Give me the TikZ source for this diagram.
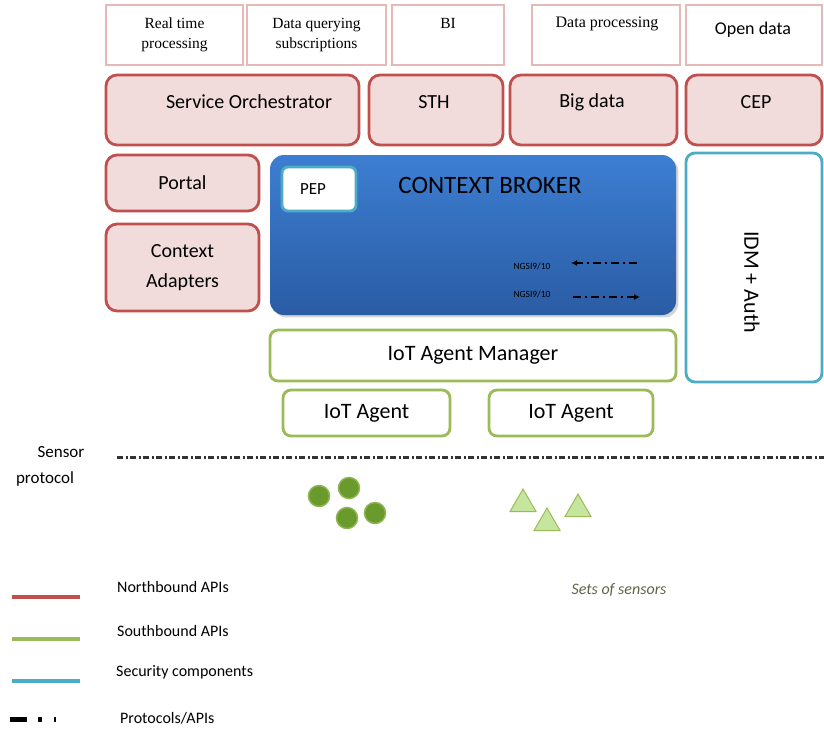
\documentclass[tikz,border=0pt]{standalone}
\usepackage{fontspec}
\setmainfont{Carlito}
\newfontfamily\timesfont{Liberation Serif}
\usetikzlibrary{shapes.geometric,arrows.meta,shadows}
\definecolor{nbred}{HTML}{C0504D}
\definecolor{nbfill}{HTML}{F2DCDB}
\definecolor{toppink}{HTML}{E6B9B8}
\definecolor{sbgreen}{HTML}{9BBB59}
\definecolor{secblue}{HTML}{4BACC6}
\definecolor{cbtop}{HTML}{3D7ED2}
\definecolor{cbbot}{HTML}{2A5CA4}
\definecolor{dotgreen}{HTML}{6A9A2C}
\definecolor{dotedge}{HTML}{8DB451}
\definecolor{trigreen}{HTML}{C6E59E}
\definecolor{setgray}{HTML}{5F6446}
\begin{document}
\begin{tikzpicture}[x=1pt,y=-1pt,
  appbox/.style={draw=toppink, line width=2.5pt, fill=white, inner sep=0pt, align=center, font=\timesfont\fontsize{15.5}{20}\selectfont},
  nbbox/.style={draw=nbred, line width=2.8pt, fill=nbfill, rounded corners=11pt, inner sep=0pt, align=center, font=\fontsize{20}{30}\selectfont},
  sbbox/.style={draw=sbgreen, line width=2.8pt, fill=white, rounded corners=8pt, inner sep=0pt, font=\fontsize{22}{24}\selectfont},
  secbox/.style={draw=secblue, line width=2.8pt, rounded corners=9pt, inner sep=0pt},
  lbl/.style={inner sep=0pt, font=\fontsize{20}{24}\selectfont},
  sensdot/.style={circle, fill=dotgreen, draw=dotedge, line width=1.5pt, minimum size=21pt, inner sep=0pt},
  senstri/.style={regular polygon, regular polygon sides=3, fill=trigreen, draw=sbgreen, line width=1pt, minimum size=30pt, inner sep=0pt},
  proto/.style={line width=3pt, draw=black!80, dash pattern=on 6pt off 2.5pt on 2pt off 2.5pt},
  ngsi/.style={line width=1.6pt, dash pattern=on 8pt off 4pt on 2pt off 4pt, -{Latex[length=6pt,width=6pt]}},
  legline/.style={line width=4pt},
  legtxt/.style={anchor=west, inner sep=0pt, font=\fontsize{16}{18}\selectfont}]
\useasboundingbox (0,0) rectangle (824,729);
\node[appbox, minimum width=137pt, minimum height=60pt] (rtp) at (174.5,35) {Real time\\processing};
\node[appbox, minimum width=139pt, minimum height=60pt] (dqs) at (316.5,35) {Data querying\\subscriptions};
\node[appbox, minimum width=112pt, minimum height=60pt] (bi) at (448,35) {};
\node[appbox, minimum width=148pt, minimum height=60pt] (dproc) at (606,35) {};
\node[appbox, minimum width=136pt, minimum height=60pt] (odata) at (754,35) {};
\node[lbl, font=\timesfont\fontsize{15.5}{20}\selectfont] (bitxt) at (448,23) {BI};
\node[lbl, font=\timesfont\fontsize{16}{20}\selectfont] (dproctxt) at (607,24) {Data processing};
\node[lbl, font=\fontsize{18}{20}\selectfont] (odatatxt) at (753,30) {Open data};
\node[nbbox, minimum width=253pt, minimum height=70pt] (orch) at (232.5,110) {};
\node[nbbox, minimum width=134pt, minimum height=70pt] (sth) at (436,110) {};
\node[nbbox, minimum width=167pt, minimum height=70pt] (bigdata) at (593.5,110) {};
\node[nbbox, minimum width=136pt, minimum height=70pt] (cep) at (754,110) {};
\node[lbl] (orchtxt) at (249,102) {Service Orchestrator};
\node[lbl] (sthtxt) at (434,102) {STH};
\node[lbl] (bigdatatxt) at (592,102) {Big data};
\node[lbl] (ceptxt) at (756,102) {CEP};
\node[nbbox, minimum width=153pt, minimum height=56pt] (portal) at (182.5,183) {Portal};
\node[nbbox, minimum width=153pt, minimum height=87pt] (adapt) at (182.5,267.5) {Context\\Adapters};
\node[rounded corners=14pt, top color=cbtop, bottom color=cbbot, drop shadow={opacity=0.35}, minimum width=406pt, minimum height=160pt, inner sep=0pt] (cb) at (473,235) {};
\node[lbl, font=\fontsize{25}{28}\selectfont] (cbtxt) at (490,185) {CONTEXT BROKER};
\node[secbox, fill=white, rounded corners=6pt, minimum width=74pt, minimum height=44pt, font=\fontsize{17}{20}\selectfont] (pep) at (319,189) {\hspace*{-12pt}PEP};
\node[lbl, font=\fontsize{9.5}{10}\selectfont] (ngsiin) at (532,266) {NGSI9/10};
\node[lbl, font=\fontsize{9.5}{10}\selectfont] (ngsiout) at (532,294) {NGSI9/10};
\coordinate (ngsiina) at (637,263);
\coordinate (ngsiinb) at (571,263);
\coordinate (ngsiouta) at (573,297);
\coordinate (ngsioutb) at (640,297);
\draw[ngsi] (ngsiina) -- (ngsiinb);
\draw[ngsi] (ngsiouta) -- (ngsioutb);
\node[secbox, fill=white, minimum width=136pt, minimum height=229pt] (idm) at (754,267.5) {};
\node[lbl, rotate=-90, font=\fontsize{22}{24}\selectfont] (idmtxt) at (752,282) {IDM + Auth};
\node[sbbox, minimum width=406pt, minimum height=51pt] (iotmgr) at (473,355.5) {IoT Agent Manager};
\node[sbbox, minimum width=167pt, minimum height=46pt] (agenta) at (366.5,413) {IoT Agent};
\node[sbbox, minimum width=164pt, minimum height=46pt] (agentb) at (571,413) {IoT Agent};
\node[lbl, font=\fontsize{17}{20}\selectfont] (senstxt) at (61,452) {Sensor};
\node[lbl, font=\fontsize{17}{20}\selectfont] (prottxt) at (45,479) {protocol};
\coordinate (protoa) at (117,457);
\coordinate (protob) at (824,457);
\draw[proto] (protoa) -- (protob);
\node[sensdot] (dot1) at (319,496) {};
\node[sensdot] (dot2) at (349,488) {};
\node[sensdot] (dot3) at (347,518) {};
\node[sensdot] (dot4) at (375,513) {};
\node[senstri] (tri1) at (523,504) {};
\node[senstri] (tri2) at (547,523) {};
\node[senstri] (tri3) at (578,509) {};
\node[lbl, font=\itshape\fontsize{16}{18}\selectfont, text=setgray] (setstxt) at (619,590) {Sets of sensors};
\coordinate (lega1) at (12,597);
\coordinate (lega2) at (80,597);
\coordinate (legb1) at (12,639);
\coordinate (legb2) at (80,639);
\coordinate (legc1) at (12,681);
\coordinate (legc2) at (80,681);
\coordinate (legd1) at (10,719);
\coordinate (legd2) at (80,719);
\draw[legline, nbred] (lega1) -- (lega2);
\draw[legline, sbgreen] (legb1) -- (legb2);
\draw[legline, secblue] (legc1) -- (legc2);
\draw[line width=5pt, dash pattern=on 17pt off 11pt on 4pt off 12pt on 1.5pt off 30pt] (legd1) -- (legd2);
\node[legtxt] (legatxt) at (117,587) {Northbound APIs};
\node[legtxt] (legbtxt) at (117,631) {Southbound APIs};
\node[legtxt] (legctxt) at (116,672) {Security components};
\node[legtxt] (legdtxt) at (120,718) {Protocols/APIs};
\end{tikzpicture}
\end{document}
